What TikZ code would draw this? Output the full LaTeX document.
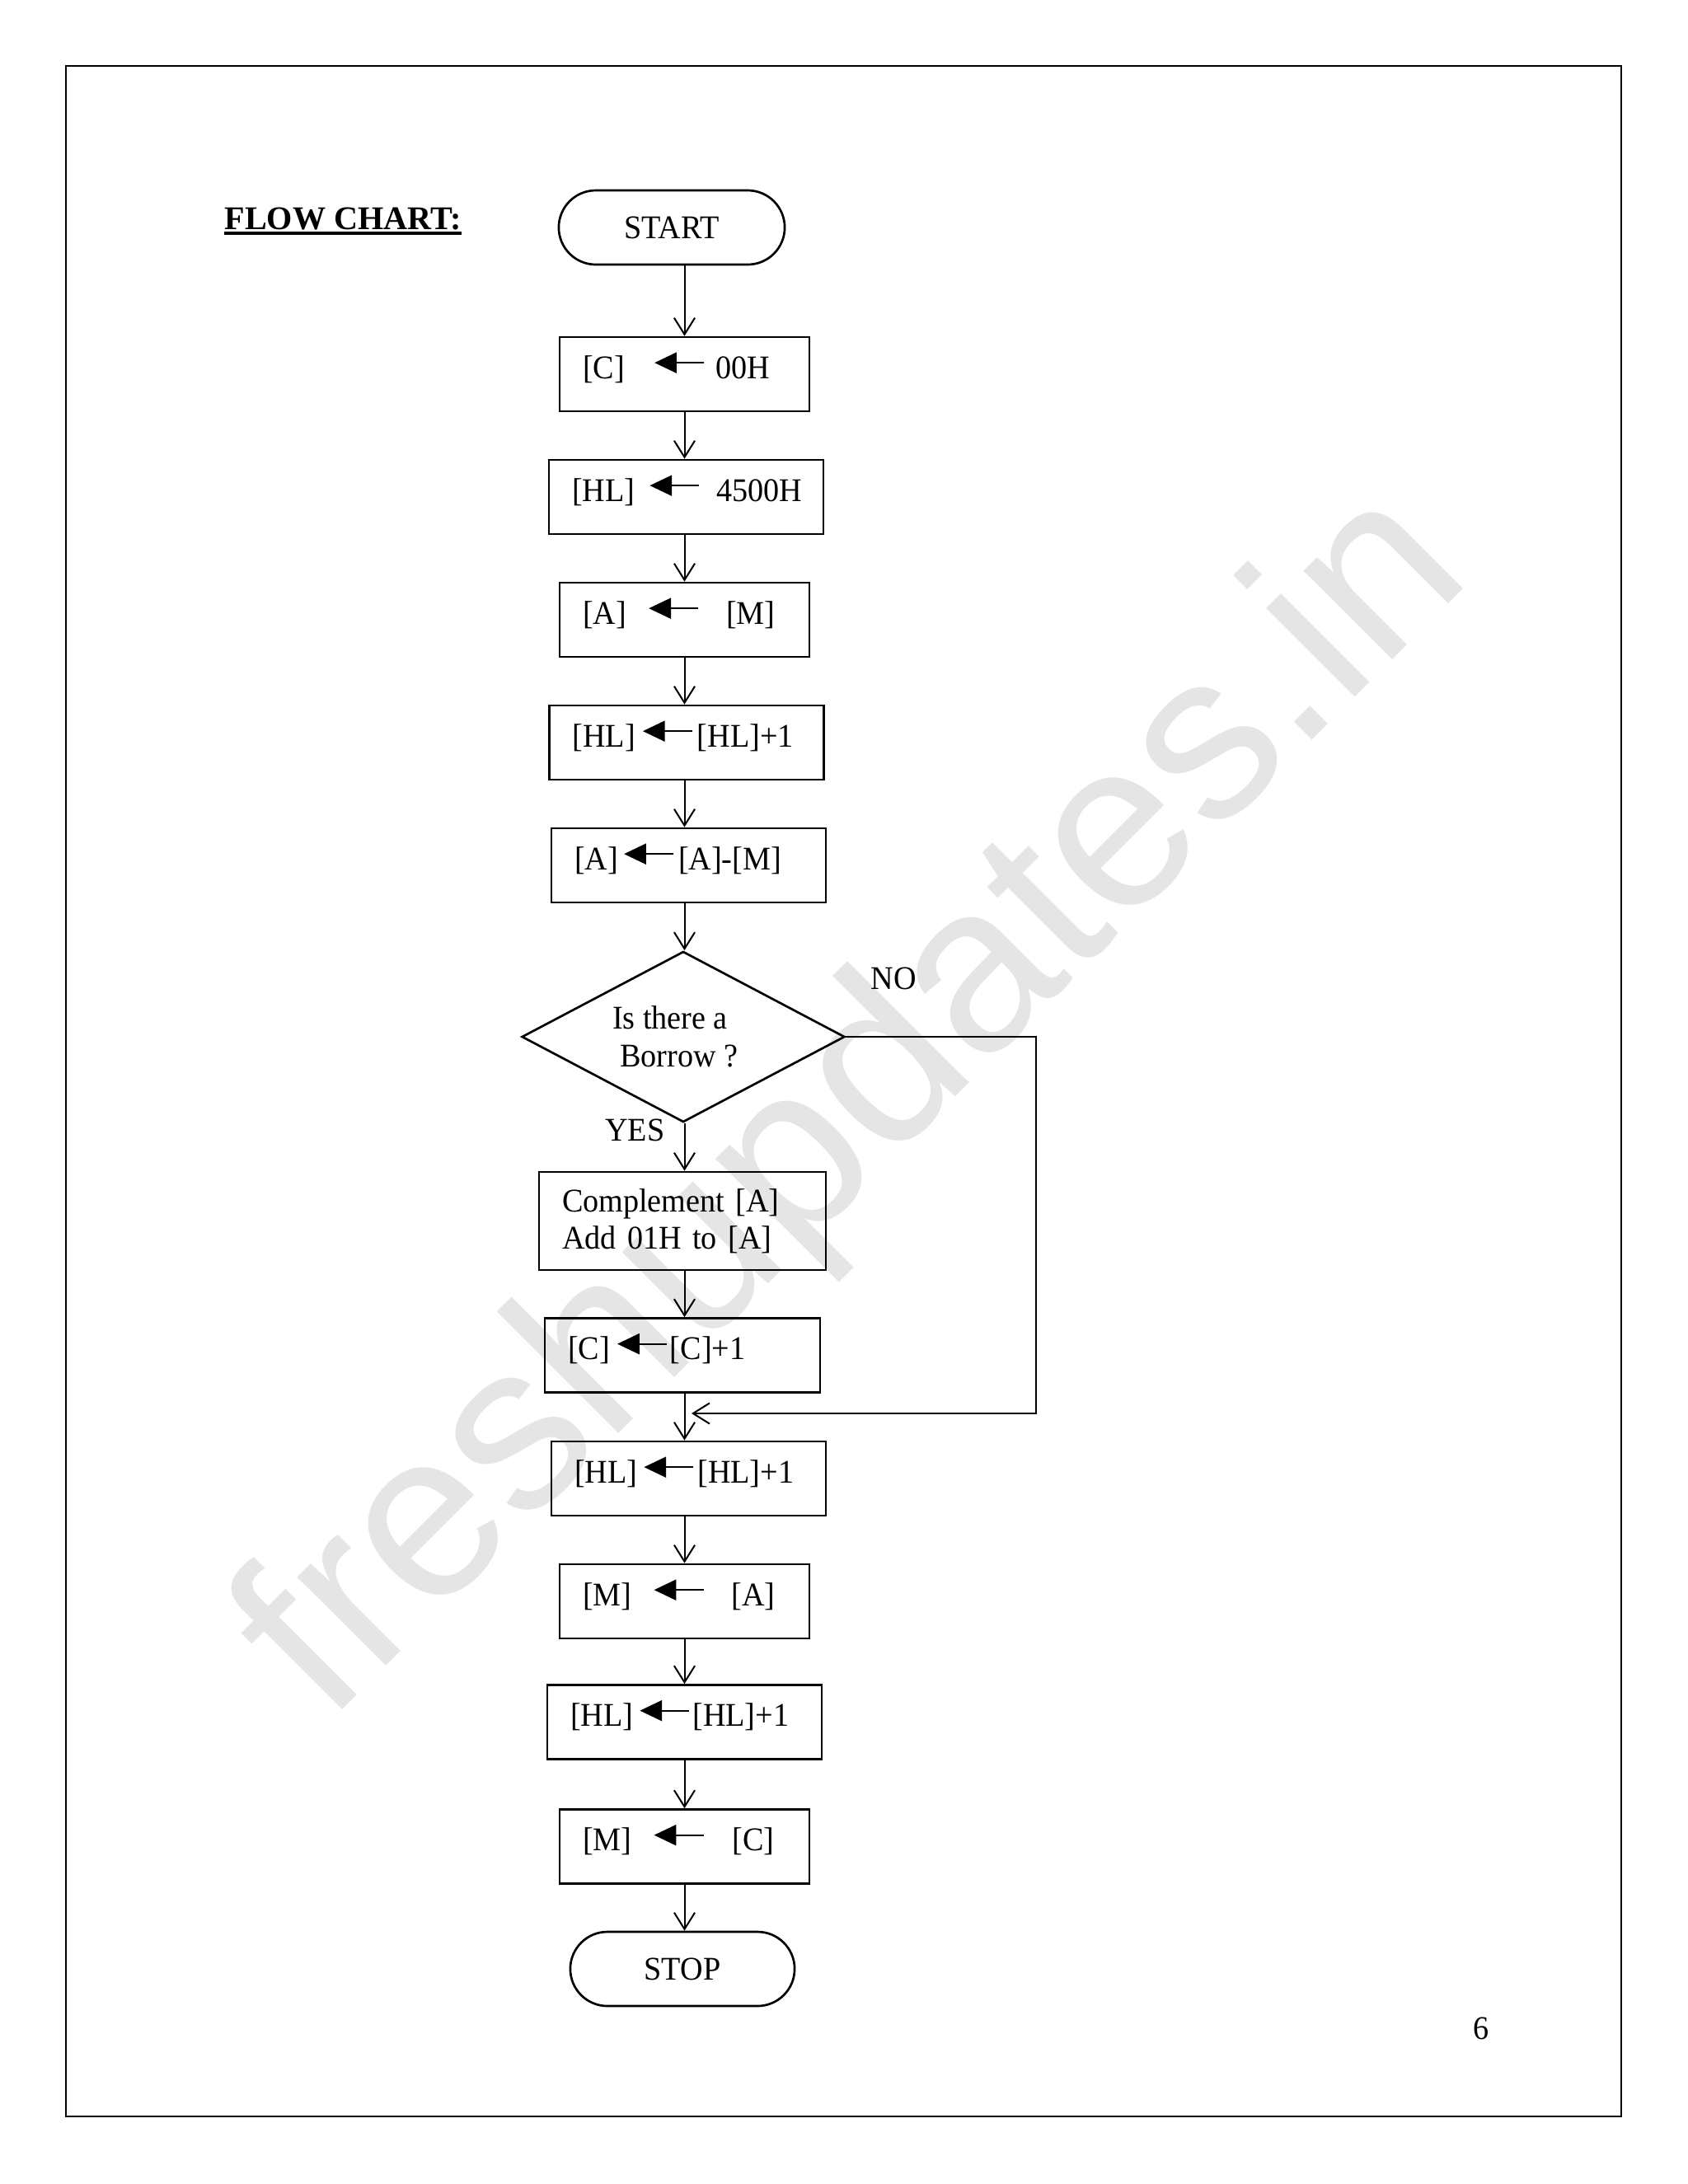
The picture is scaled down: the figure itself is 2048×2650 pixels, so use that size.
\documentclass[tikz,border=0pt]{standalone}
\usepackage{fontspec}
\setmainfont{Liberation Serif}[FakeStretch=0.95]
\newfontfamily\titlefont{Liberation Serif}
\newfontfamily\markfont{Liberation Sans}
\usetikzlibrary{arrows.meta,shapes.geometric,shapes.misc}

\definecolor{markgray}{gray}{0.9}

% filled arrow used inside the boxes
\newcommand{\ldarr}{\tikz[baseline=-0.47em]\draw[line width=0.6pt,-{Triangle[length=8pt,width=7.5pt]}] (17.9pt,0) -- (0,0);}
% target, gap, gap, source
\newcommand{\assign}[4]{\rlap{#1\hspace{#2}\ldarr\hspace{#3}#4}}

\tikzset{
  terminal/.style={draw, rounded rectangle, line width=0.8pt, minimum height=26.9pt, minimum width=#1},
  opbox/.style={draw, line width=0.8pt, align=left, inner xsep=8.4pt, inner ysep=0pt, minimum height=26.9pt, text width=#1},
  movebox/.style={opbox=#1, text height=5.5pt, text depth=2.5pt},
  decision/.style={draw, diamond, line width=0.8pt, inner sep=0pt, aspect=1.89, minimum width=117.1pt, minimum height=61.9pt, align=center},
  flow/.style={->, line width=0.6pt},
}

\begin{document}
\begin{tikzpicture}[x=0.29883pt, y=-0.29883pt, >={Straight Barb[length=6pt,width=7.5pt]}, font=\fontsize{12pt}{13.6pt}\selectfont]
\useasboundingbox (0,0) rectangle (2048,2650);

% watermark
\node [rotate=45, anchor=base west, inner sep=0pt, text=markgray, font=\markfont\fontsize{86pt}{86pt}\selectfont] (mark) at (397,2093) {freshupdates.in};

% page
\draw [line width=0.45pt] (80,80) rectangle (1967,2568);
\node [anchor=base west, inner sep=0pt, font=\titlefont\fontsize{12pt}{13.6pt}\selectfont\bfseries] (title) at (272,278) {FLOW CHART:};
\draw [line width=1.2pt] ([yshift=-1.6pt]title.base west) -- ([yshift=-1.6pt]title.base east);
\node [anchor=base] (pageno) at (1797,2474) {6};

% chart
\node [terminal=88.6pt] (start) at (815,276) {START};
\node [movebox=73.7pt] (c00) at (830.5,454) {\assign{[C]}{10.5pt}{3.9pt}{00H}};
\node [movebox=82.7pt] (hlset) at (832.5,603) {\assign{[HL]}{5.1pt}{6pt}{4500H}};
\node [movebox=73.7pt] (am) at (830.5,752) {\assign{[A]}{7.8pt}{9.9pt}{[M]}};
\node [movebox=82.7pt] (hlincA) at (833,901) {\assign{[HL]}{2.4pt}{1.5pt}{[HL]+1}};
\node [movebox=82.7pt] (asub) at (835.5,1050) {\assign{[A]}{1.8pt}{1.5pt}{[A]-[M]}};
\node [decision] (borrow) at (829,1258) {Is there a\hspace*{9.6pt}\\Borrow ?\hspace*{3pt}};
\node [opbox=87.2pt, minimum height=35.6pt] (cmpl) at (828,1481.5) {Complement [A]\\Add 01H to [A]};
\node [movebox=83pt] (cinc) at (828,1644.5) {\assign{[C]}{2.4pt}{0.9pt}{[C]+1}};
\node [movebox=82.7pt] (hlincB) at (835.5,1794) {\assign{[HL]}{2.1pt}{1.2pt}{[HL]+1}};
\node [movebox=73.7pt] (ma) at (830.5,1943) {\assign{[M]}{7.8pt}{9.9pt}{[A]}};
\node [movebox=82.7pt] (hlincC) at (830.5,2089.5) {\assign{[HL]}{2.1pt}{0.9pt}{[HL]+1}};
\node [movebox=73.7pt] (mc) at (830.5,2240.5) {\assign{[M]}{7.8pt}{10.2pt}{[C]}};
\node [terminal=88pt] (stop) at (828,2389) {STOP};

\node [anchor=base west, inner sep=0pt] (nolabel) at (1056,1200) {NO};
\node [anchor=base east, inner sep=0pt] (yeslabel) at (807,1384) {YES};

\coordinate (spine) at (830.5,0);
\foreach \a/\b in {start/c00, c00/hlset, hlset/am, am/hlincA, hlincA/asub, asub/borrow, borrow/cmpl, cmpl/cinc, cinc/hlincB, hlincB/ma, ma/hlincC, hlincC/mc, mc/stop}
  \draw [flow] (\a.south -| spine) -- (\b.north -| spine);

\coordinate (noturn) at (1257,1715);
\coordinate (merge) at (839,1715);
\draw [flow] (borrow.east) -| (noturn) -- (merge);

\end{tikzpicture}
\end{document}
